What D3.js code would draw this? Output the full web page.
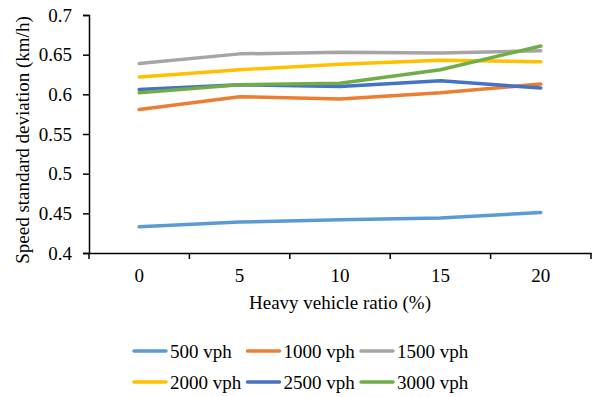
<!DOCTYPE html>
<html>
<head>
<meta charset="utf-8">
<script src="https://cdn.jsdelivr.net/npm/d3@7"></script>
</head>
<body style="margin:0">
<svg id="chart" width="592" height="397"></svg>
<script>
'use strict';
// Data
const ratios = ['0', '5', '10', '15', '20'];
const seriesNames = ['500 vph', '1000 vph', '1500 vph', '2000 vph', '2500 vph', '3000 vph'];
const seriesColors = ['#5B9BD5', '#ED7D31', '#A5A5A5', '#FFC000', '#4472C4', '#70AD47'];
const v500 = [0.433, 0.439, 0.442, 0.444, 0.451];
const v1000 = [0.581, 0.597, 0.594, 0.602, 0.613];
const v1500 = [0.639, 0.651, 0.653, 0.652, 0.655];
const v2000 = [0.622, 0.631, 0.638, 0.643, 0.641];
const v2500 = [0.606, 0.612, 0.610, 0.617, 0.608];
const v3000 = [0.602, 0.612, 0.614, 0.631, 0.661];
const yTicks = [0.4, 0.45, 0.5, 0.55, 0.6, 0.65, 0.7];

const allValues = [v500, v1000, v1500, v2000, v2500, v3000];

const FONT = 'Liberation Serif';
const fontSize = '19px';

const svg = d3.select('#chart');
const margin = { left: 89, right: 1, top: 15, bottom: 144 };
const width = 592, height = 397;
const plotW = width - margin.left - margin.right;
const plotH = height - margin.top - margin.bottom;

const x = d3.scaleBand().domain(ratios).range([0, plotW]);
const y = d3.scaleLinear().domain([0.4, 0.7]).range([plotH, 0]);

const g = svg.append('g').attr('transform', `translate(${margin.left},${margin.top})`);

// Axes
const yAxis = g.append('g')
  .call(d3.axisLeft(y).tickValues(yTicks).tickSize(6).tickPadding(11)
    .tickFormat(d => String(+d.toFixed(2))));
const xAxis = g.append('g').attr('transform', `translate(0,${plotH})`)
  .call(d3.axisBottom(x).tickSize(0).tickPadding(16));

// band edges as tick marks
xAxis.selectAll('.edge').data(d3.range(ratios.length + 1)).enter().append('line')
  .attr('class', 'edge')
  .attr('x1', i => i * x.step()).attr('x2', i => i * x.step())
  .attr('y1', 0).attr('y2', 6)
  .attr('stroke', '#000').attr('stroke-width', 1.5);

[yAxis, xAxis].forEach(ax => {
  ax.select('.domain').attr('stroke', '#000').attr('stroke-width', 1.5);
  ax.selectAll('.tick line').attr('stroke', '#000').attr('stroke-width', 1.5);
  ax.selectAll('text').attr('fill', '#000')
    .style('font-family', FONT).style('font-size', fontSize);
});

// Lines
const line = d3.line()
  .x((d, i) => x(ratios[i]) + x.bandwidth() / 2)
  .y(d => y(d));

g.append('g').selectAll('path').data(allValues).enter().append('path')
  .attr('d', line)
  .attr('fill', 'none')
  .attr('stroke', (d, i) => seriesColors[i])
  .attr('stroke-width', 3.5)
  .attr('stroke-linecap', 'round')
  .attr('stroke-linejoin', 'round');

// Axis titles
svg.append('text')
  .attr('x', margin.left + plotW / 2).attr('y', 309)
  .attr('text-anchor', 'middle')
  .style('font-family', FONT).style('font-size', fontSize)
  .text('Heavy vehicle ratio (%)');

svg.append('text')
  .attr('transform', 'translate(29,140) rotate(-90)')
  .attr('text-anchor', 'middle')
  .style('font-family', FONT).style('font-size', fontSize)
  .text('Speed standard deviation (km/h)');

// Legend
const legend = svg.append('g');
const items = legend.selectAll('g').data(seriesNames).enter().append('g')
  .attr('transform', (d, i) => `translate(${134 + (i % 3) * 113.5},${i < 3 ? 351 : 382})`);
items.append('line')
  .attr('x1', 0).attr('x2', 32).attr('y1', 0).attr('y2', 0)
  .attr('stroke', (d, i) => seriesColors[i])
  .attr('stroke-width', 3.5).attr('stroke-linecap', 'round');
items.append('text')
  .attr('x', 36).attr('y', 6.5)
  .style('font-family', FONT).style('font-size', fontSize)
  .text(d => d);
</script>
</body>
</html>
